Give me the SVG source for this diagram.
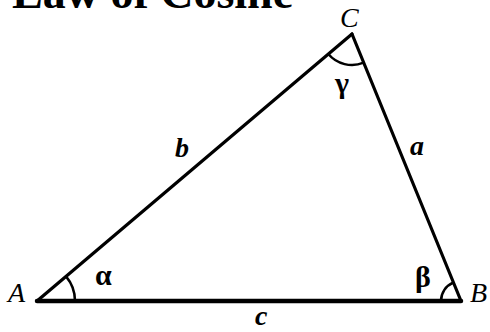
<svg xmlns="http://www.w3.org/2000/svg" width="490" height="332" viewBox="0 0 490 332">
<style>
.title{font-family:"Liberation Serif",serif;font-weight:bold;font-size:46px;fill:#000}
.vtx{font-family:"Liberation Serif",serif;font-style:italic;font-size:28px;fill:#000}
.side{font-family:"Liberation Serif",serif;font-style:italic;font-weight:bold;font-size:28px;fill:#000}
.ang{font-family:"Liberation Serif",serif;font-weight:bold;font-size:30px;fill:#000}
.edge{stroke:#000;stroke-linecap:round;fill:none}
.arc{stroke:#000;stroke-width:2.5;fill:none}
</style>
<rect width="490" height="332" fill="#fff"/>
<text class="title" x="12" y="8">Law of Cosine</text>
<g id="connectors">
<line class="edge" x1="37" y1="301" x2="352" y2="34" stroke-width="3.2"/>
<line class="edge" x1="352" y1="34" x2="461" y2="301" stroke-width="3.2"/>
<line class="edge" x1="37" y1="301" x2="461" y2="301" stroke-width="4.5"/>
<text class="side" x="175" y="157">b</text>
<text class="side" x="410" y="155">a</text>
<text class="side" x="255" y="325">c</text>
</g>
<g id="A">
<text class="vtx" x="8" y="302">A</text>
<path class="arc" d="M75,301 A38,38 0 0 0 66,276.4"/>
<text class="ang" x="95" y="285">α</text>
</g>
<g id="B">
<text class="vtx" x="470" y="302">B</text>
<path class="arc" d="M441,301 A20,20 0 0 1 453.4,282.5"/>
<text class="ang" x="415" y="287">β</text>
</g>
<g id="C">
<text class="vtx" x="340" y="27">C</text>
<path class="arc" d="M328.3,54 A31,31 0 0 0 363.7,62.7"/>
<text class="ang" x="335" y="93">γ</text>
</g>
</svg>
